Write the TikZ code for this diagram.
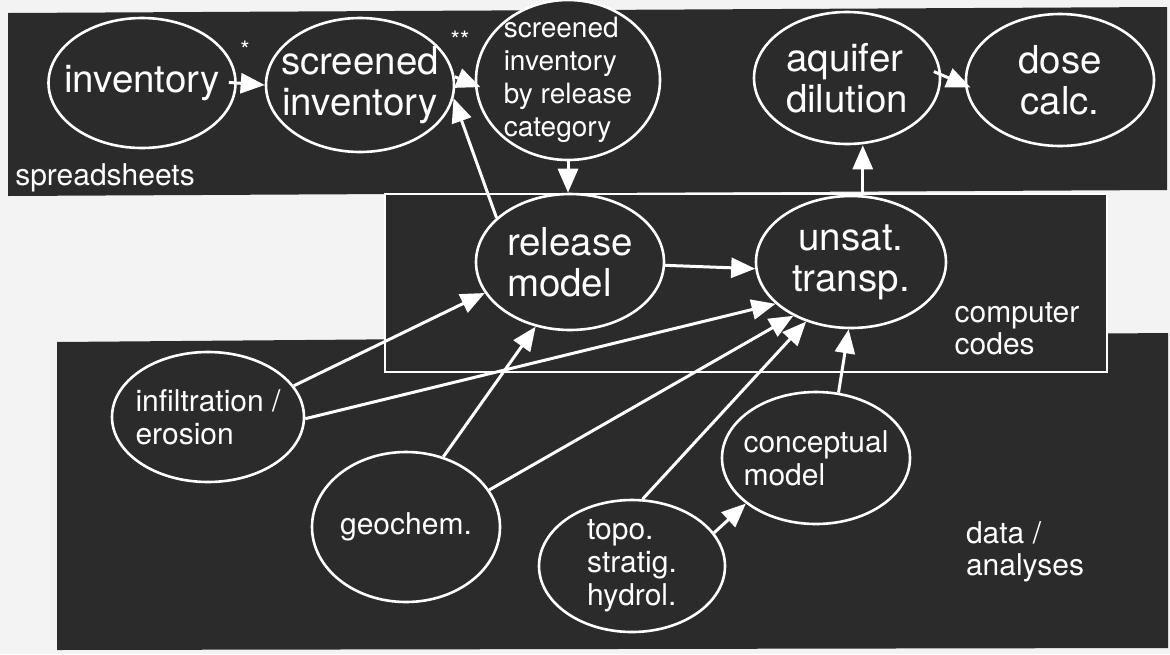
\documentclass[tikz,border=0pt]{standalone}
\usepackage{fontspec}
\setmainfont{TeX Gyre Heros}
\usetikzlibrary{shapes.geometric,arrows.meta}
\definecolor{panel}{HTML}{2B2B2B}
\definecolor{paper}{HTML}{F3F3F3}
\tikzset{
	blob/.style={ellipse, draw=white, line width=2.6pt, fill=panel, text=white, inner sep=-25pt},
	bigtext/.style={font=\fontsize{38.5}{41}\selectfont, align=center},
	midtext/.style={font=\fontsize{30}{33}\selectfont, align=left},
	tag/.style={text=white, font=\fontsize{30}{32}\selectfont, align=left},
	flow/.style={white, line width=3pt, -{Triangle[length=24pt,width=20pt]}}
}
\begin{document}
\begin{tikzpicture}[x=1pt,y=-1pt]
	\fill[paper] (0,0) rectangle (1170,654);
	\useasboundingbox (0,0) rectangle (1170,654);

	\fill[panel] (8,13) -- (1167,7) -- (1167,190) -- (8,196) -- cycle;
	\fill[panel] (57,342) -- (1168,333) -- (1168,648) -- (57,650) -- cycle;
	\draw[white, line width=2.6pt, fill=panel] (385,194) rectangle (1107,372);

	\node[tag] (sheets) at (105,178) {spreadsheets};
	\node[tag] (codes) at (1017,329) {computer\\codes};
	\node[tag] (data) at (1025,552) {data /\\analyses};

	\node[blob, bigtext, minimum width=187pt, minimum height=130pt] (inv) at (142,83) {inventory};
	\node[blob, bigtext, minimum width=188pt, minimum height=134pt] (scr) at (360,85) {screened\\inventory};
	\node[blob, midtext, font=\fontsize{28}{33}\selectfont, minimum width=184pt, minimum height=160pt] (cat) at (568,80) {screened\\inventory\\by release\\category};
	\node[blob, bigtext, align=left, minimum width=186pt, minimum height=132pt] (aqu) at (847,78) {aquifer\\dilution};
	\node[blob, bigtext, minimum width=188pt, minimum height=132pt] (dose) at (1060,80) {dose\\calc.};

	\node[blob, bigtext, align=left, minimum width=188pt, minimum height=136pt] (rel) at (570,262) {release\\model};
	\node[blob, bigtext, minimum width=190pt, minimum height=132pt] (uns) at (851,262) {unsat.\\transp.};

	\node[blob, midtext, minimum width=192pt, minimum height=130pt] (inf) at (208,417) {infiltration /\\erosion};
	\node[blob, midtext, minimum width=188pt, minimum height=150pt] (geo) at (406,527) {geochem.};
	\node[blob, midtext, minimum width=186pt, minimum height=132pt] (topo) at (632,566) {topo.\\stratig.\\hydrol.};
	\node[blob, midtext, minimum width=188pt, minimum height=132pt] (con) at (816,458) {conceptual\\model};

	\node[text=white, font=\fontsize{24}{24}\selectfont] (star) at (245,50) {*};
	\node[text=white, font=\fontsize{24}{24}\selectfont] (stars) at (460,40) {**};

	\draw[flow, shorten <=-8pt] (inv.east) -- (scr.west);
	\draw[flow, shorten >=-6pt] (scr.5) -- (cat.183);
	\draw[flow, shorten <=-8pt, shorten >=-6pt] (aqu.2) -- (dose.183);
	\draw[flow] (rel.149) -- (scr.-8);
	\draw[flow] (cat.south) -- (cat.south |- rel.north);
	\draw[flow] (uns.80) -- (uns.80 |- aqu.south);
	\draw[flow] (rel.-2) -- (uns.184);
	\draw[flow] (inf.20) -- (rel.200);
	\draw[flow] (inf.-1) -- (uns.209);
	\draw[flow] (geo.62) -- (rel.242);
	\draw[flow] (geo.24) -- (uns.223);
	\draw[flow] (topo.81) -- (uns.233);
	\draw[flow] (topo.22) -- (con.213);
	\draw[flow] (con.71) -- (uns.268);
\end{tikzpicture}
\end{document}
